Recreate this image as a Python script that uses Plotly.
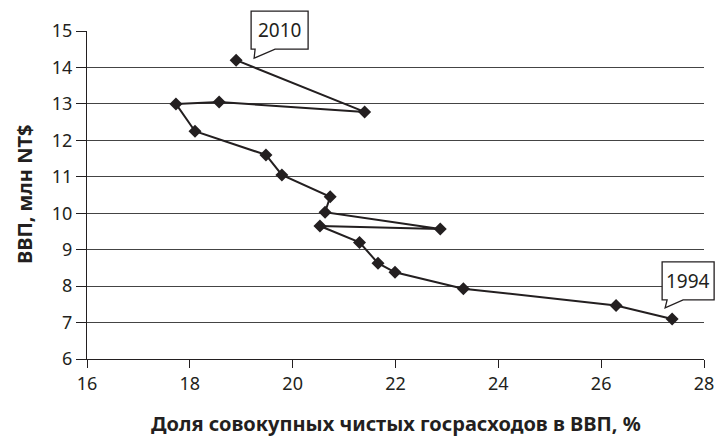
import plotly.graph_objects as go

years = list(range(1994, 2011))
spending_share = [27.38, 26.29, 23.32, 21.99, 21.66, 21.3, 20.53, 22.87, 20.63, 20.73,
                  19.79, 19.48, 18.1, 17.73, 18.57, 21.4, 18.9]
gdp = [7.1, 7.47, 7.93, 8.38, 8.63, 9.2, 9.65, 9.57, 10.03, 10.45,
       11.05, 11.6, 12.25, 13.0, 13.05, 12.78, 14.2]

x_title = "Доля совокупных чистых госрасходов в ВВП, %"
y_title = "ВВП, млн NT$"
x_range = [16, 28]
y_range = [6, 15]
x_ticks = [16, 18, 20, 22, 24, 26, 28]
y_ticks = [6, 7, 8, 9, 10, 11, 12, 13, 14, 15]

INK = "#231f20"
FONT = "Noto Sans"

fig = go.Figure()
fig.add_trace(go.Scatter(
    x=spending_share, y=gdp, mode="lines+markers",
    line=dict(color=INK, width=2),
    marker=dict(symbol="diamond", size=10, color=INK),
    showlegend=False, hoverinfo="skip",
))

def to_paper(xv, yv):
    return ((xv - x_range[0]) / (x_range[1] - x_range[0]),
            (yv - y_range[0]) / (y_range[1] - y_range[0]))

callouts = [
    # index, bubble path (pixels relative to point, y up), text centre offset
    (len(years) - 1, "M 15,11 L 19,11 L 18,2 L 39,11 L 72,11 L 72,49 L 15,49 Z", (43.5, 30)),
    (0, "M -10,19 L -5,19 L -7,11 L 11,19 L 42,19 L 42,57 L -10,57 Z", (16, 38)),
]
shapes = []
annotations = []
for idx, path, (tx, ty) in callouts:
    px, py = to_paper(spending_share[idx], gdp[idx])
    shapes.append(dict(
        type="path", xref="paper", yref="paper",
        xsizemode="pixel", ysizemode="pixel", xanchor=px, yanchor=py,
        path=path, fillcolor="white", line=dict(color=INK, width=1.3), layer="above",
    ))
    annotations.append(dict(
        x=spending_share[idx], y=gdp[idx], xref="x", yref="y",
        text=str(years[idx]), showarrow=False, xshift=tx, yshift=ty,
        font=dict(family=FONT, size=19, color=INK),
    ))

annotations.append(dict(
    x=0.5, y=0, xref="paper", yref="paper", yshift=-64, yanchor="middle",
    text="<b>" + x_title + "</b>", showarrow=False,
    font=dict(family=FONT, size=20, color=INK),
))
annotations.append(dict(
    x=0, y=0.5, xref="paper", yref="paper", xshift=-63, xanchor="center",
    text="<b>" + y_title + "</b>", showarrow=False, textangle=-90,
    font=dict(family=FONT, size=20, color=INK),
))

fig.update_layout(
    template="none",
    width=716, height=436,
    margin=dict(l=87, r=12, t=31, b=77, autoexpand=False),
    paper_bgcolor="white", plot_bgcolor="white",
    font=dict(family=FONT, size=18, color=INK),
    shapes=shapes, annotations=annotations,
    xaxis=dict(range=x_range, tickvals=x_ticks, showgrid=False, zeroline=False,
               automargin=False,
               showline=True, linecolor=INK, linewidth=1.3,
               ticks="outside", ticklen=8, tickcolor=INK, tickwidth=1.3,
               tickfont=dict(family=FONT, size=18, color=INK)),
    yaxis=dict(range=y_range, tickvals=y_ticks, showgrid=True, gridcolor="#444", gridwidth=1,
               automargin=False,
               zeroline=False, showline=True, linecolor=INK, linewidth=1.3,
               ticks="outside", ticklen=10, tickcolor=INK, tickwidth=1.3,
               tickfont=dict(family=FONT, size=18, color=INK)),
)

fig.write_html("out.html",
               config={"displayModeBar": False, "responsive": False},
               post_script="document.body.style.margin='0';document.body.style.overflow='hidden';")
